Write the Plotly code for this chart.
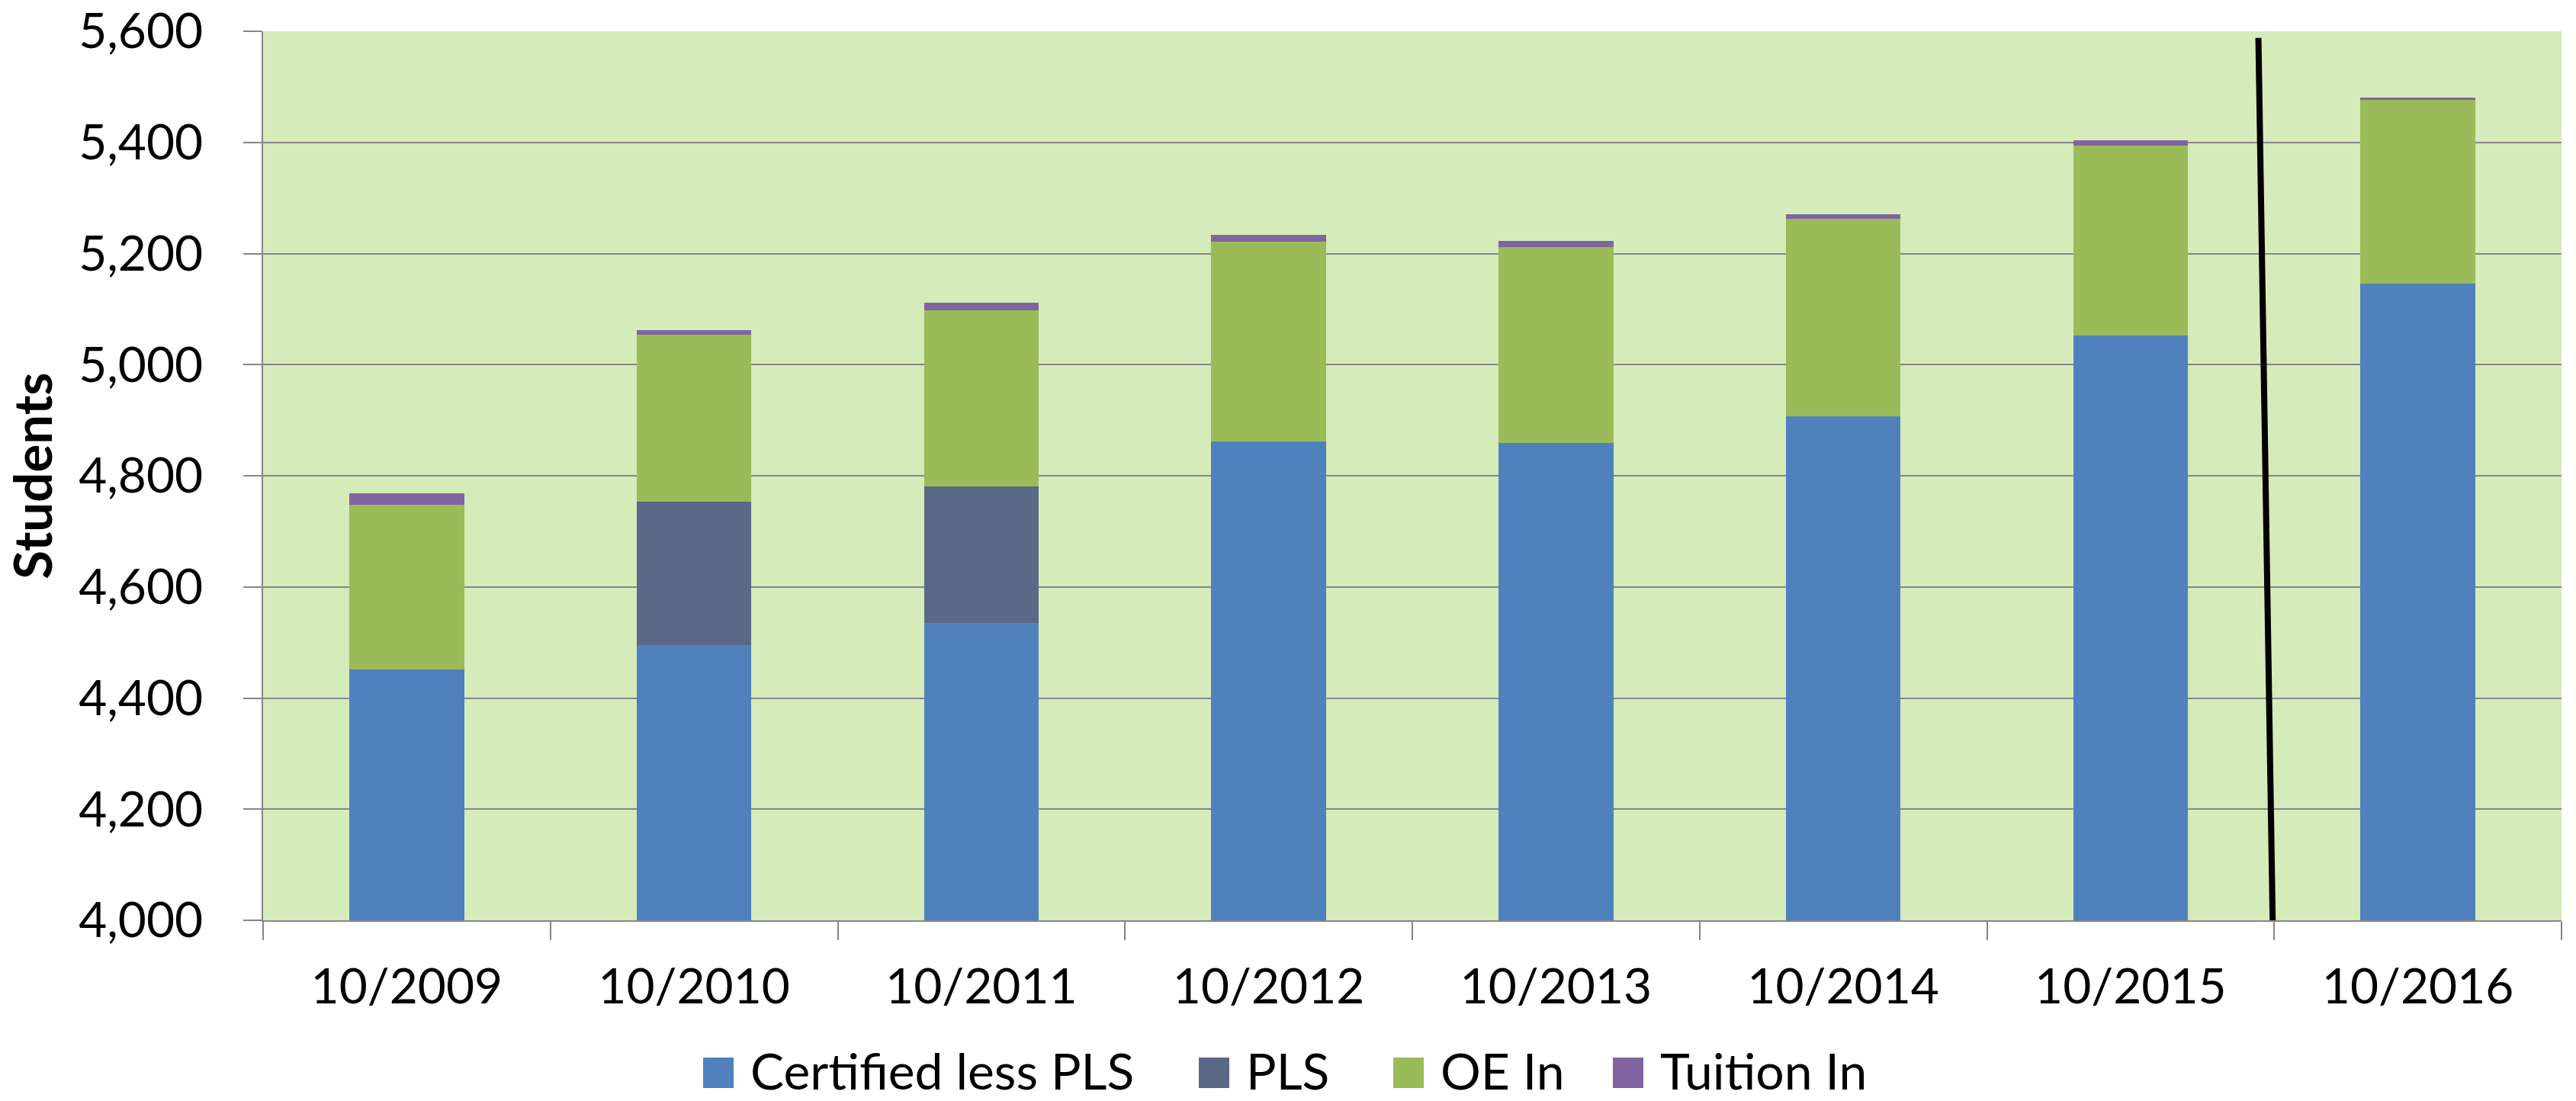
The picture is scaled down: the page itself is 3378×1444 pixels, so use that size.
import plotly.graph_objects as go

# ---- data ----
categories = ["10/2009", "10/2010", "10/2011", "10/2012", "10/2013", "10/2014", "10/2015", "10/2016"]
certified_less_pls = [4452, 4496, 4535, 4862, 4859, 4907, 5052, 5146]
pls = [0, 257, 246, 0, 0, 0, 0, 0]
oe_in = [296, 301, 317, 359, 353, 355, 342, 330]
tuition_in = [20, 8, 14, 13, 10, 9, 10, 5]

series_names = ["Certified less PLS", "PLS", "OE In", "Tuition In"]
series_values = [certified_less_pls, pls, oe_in, tuition_in]
series_colors = ["#4F81BD", "#5A6986", "#9BBB59", "#8064A2"]

y_ticks = [4000, 4200, 4400, 4600, 4800, 5000, 5200, 5400, 5600]
y_range = [4000, 5600]

# divider line between 10/2015 and 10/2016 (category-index units, data units)
divider_x = [6.445, 6.495]
divider_y = [5588, 3987]

# ---- layout constants (pixels) ----
W, H = 3378, 1444
ML, MR, MT, MB = 345, 19, 41, 237
PW, PH = W - ML - MR, H - MT - MB
FONT = "Lato"
GRAY = "#868686"

# legend (drawn as squares + text, Excel style)
LEG_SQUARE_LEFT = [922, 1572, 1827, 2115]
LEG_SQUARE = 40
LEG_TEXT_GAP = 60
LEG_CY = 1403


def px_x(px):
    return (px - ML) / PW


def px_y(py):
    return (H - MB - py) / PH


fig = go.Figure()
for name, vals, col in zip(series_names, series_values, series_colors):
    fig.add_trace(go.Bar(
        x=categories, y=vals, name=name, showlegend=False,
        marker=dict(color=col, line=dict(width=0)),
    ))

fig.add_shape(type="line", xref="x", yref="y",
              x0=divider_x[0], y0=divider_y[0], x1=divider_x[1], y1=divider_y[1],
              line=dict(color="black", width=8))

for name, col, left in zip(series_names, series_colors, LEG_SQUARE_LEFT):
    fig.add_shape(type="rect", xref="paper", yref="paper",
                  x0=px_x(left), x1=px_x(left + LEG_SQUARE),
                  y0=px_y(LEG_CY + 4 + LEG_SQUARE / 2), y1=px_y(LEG_CY + 4 - LEG_SQUARE / 2),
                  fillcolor=col, line=dict(width=0), layer="above")
    fig.add_annotation(text=name, xref="paper", yref="paper",
                       x=px_x(left + LEG_TEXT_GAP), y=px_y(LEG_CY),
                       xanchor="left", yanchor="middle", showarrow=False,
                       font=dict(family=FONT, size=66, color="black"))

fig.update_layout(
    width=W, height=H, autosize=False,
    barmode="stack", bargap=0.6,
    paper_bgcolor="white", plot_bgcolor="#D5EBBA",
    margin=dict(l=ML, r=MR, t=MT, b=MB),
    font=dict(family=FONT, size=64, color="black"),
    showlegend=False,
)

fig.update_xaxes(
    type="category", tickson="boundaries",
    ticks="outside", ticklen=24, tickwidth=2, tickcolor=GRAY,
    showline=True, linecolor=GRAY, linewidth=2,
    showgrid=False,
    tickfont=dict(family=FONT, size=64, color="black"),
    ticklabelstandoff=30,
    automargin=False,
)

fig.update_yaxes(
    range=y_range, tickvals=y_ticks, tickformat=",d",
    ticks="outside", ticklen=24, tickwidth=2, tickcolor=GRAY,
    showline=True, linecolor=GRAY, linewidth=2,
    showgrid=True, gridcolor=GRAY, gridwidth=2,
    zeroline=False,
    tickfont=dict(family=FONT, size=64, color="black"),
    ticklabelstandoff=40,
    title=dict(text="<b>Students</b>", font=dict(family=FONT, size=69, color="black"), standoff=18),
    automargin=False,
)

fig.write_html("out.html", config={"displayModeBar": False},
               post_script="document.body.style.margin='0';document.body.style.overflow='hidden';")
